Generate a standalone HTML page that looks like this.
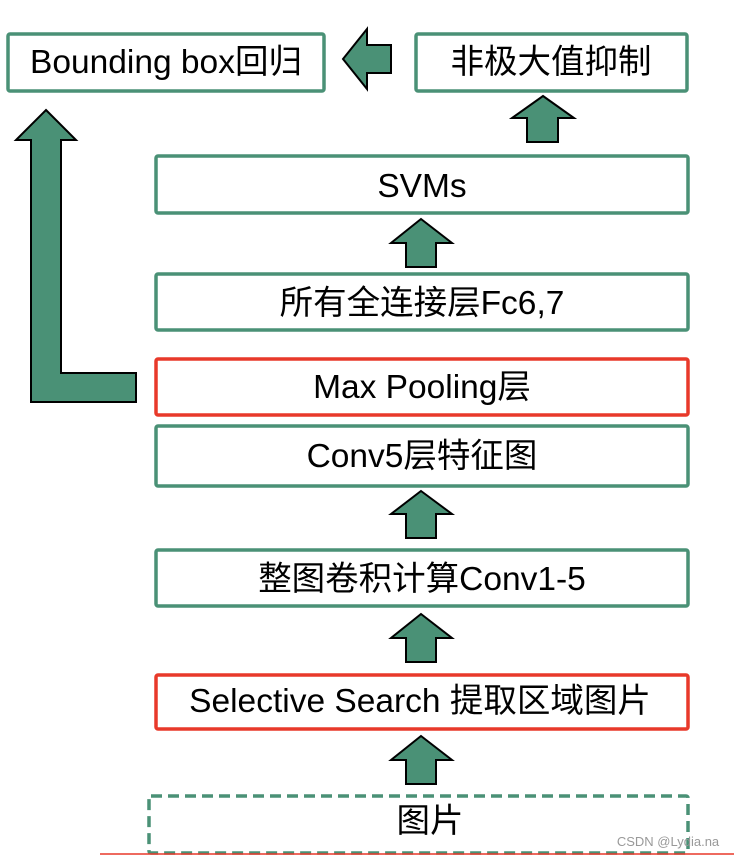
<!DOCTYPE html>
<html><head><meta charset="utf-8"><style>
html,body{margin:0;padding:0;background:#fff;}
svg text{font-family:"Liberation Sans","Noto Sans CJK SC",sans-serif;font-size:33.5px;fill:#000;text-anchor:middle;}
</style></head><body>
<svg width="734" height="858" viewBox="0 0 734 858" xmlns="http://www.w3.org/2000/svg">
<g fill="#fff" stroke-width="3.5">
<rect x="8" y="34" width="316" height="57" rx="2" stroke="#4a9176"/>
<rect x="416" y="34" width="271" height="57" rx="2" stroke="#4a9176"/>
<rect x="156" y="156" width="532" height="57" rx="2" stroke="#4a9176"/>
<rect x="156" y="274" width="532" height="56" rx="2" stroke="#4a9176"/>
<rect x="156" y="359" width="532" height="56" rx="2" stroke="#e8392a"/>
<rect x="156" y="426" width="532" height="60" rx="2" stroke="#4a9176"/>
<rect x="156" y="550" width="532" height="56" rx="2" stroke="#4a9176"/>
<rect x="156" y="675" width="532" height="54" rx="2" stroke="#e8392a"/>
<rect x="149" y="796" width="539" height="57" rx="2" stroke="#4a9176" stroke-dasharray="11,6"/>
</g>
<line x1="100" y1="854" x2="734" y2="854" stroke="#e8392a" stroke-width="1.5"/>
<g fill="#4a9176" stroke="#000" stroke-width="2" stroke-linejoin="miter">
<polygon points="343,59 367,29 367,45 391,45 391,73 367,73 367,89"/>
<polygon points="543,96 574,118 558,118 558,142 527,142 527,118 512,118"/>
<polygon points="421,219 452,243 436,243 436,267 406,267 406,243 391,243"/>
<polygon points="421,491 452,514 436,514 436,538 406,538 406,514 391,514"/>
<polygon points="421,614 452,638 436,638 436,662 406,662 406,638 391,638"/>
<polygon points="421,736 452,760 436,760 436,784 406,784 406,760 391,760"/>
<polygon points="46,110 76,140 61,140 61,373 136,373 136,402 31,402 31,140 16,140"/>
</g>
<text x="166" y="73">Bounding box回归</text>
<text x="551" y="73">非极大值抑制</text>
<text x="422" y="197">SVMs</text>
<text x="422" y="314">所有全连接层Fc6,7</text>
<text x="422" y="398">Max Pooling层</text>
<text x="422" y="467">Conv5层特征图</text>
<text x="422" y="590">整图卷积计算Conv1-5</text>
<text x="420" y="712">Selective Search 提取区域图片</text>
<text x="430" y="832">图片</text>
<text x="668" y="846" style="font-size:13px;fill:#999">CSDN @Lydia.na</text>
</svg>
</body></html>
